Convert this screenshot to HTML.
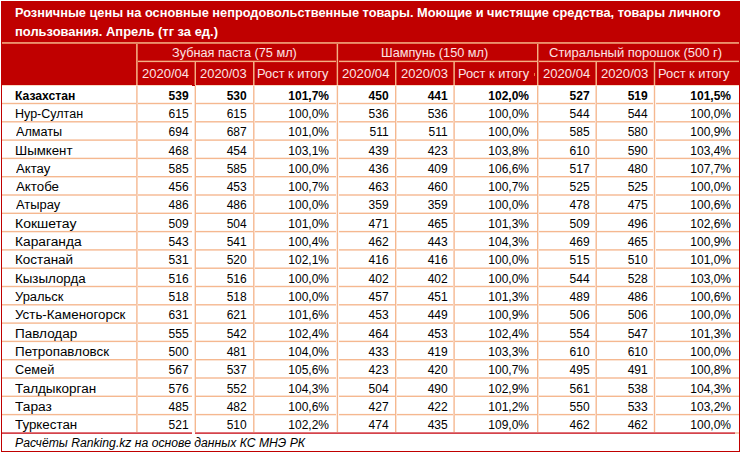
<!DOCTYPE html><html><head><meta charset="utf-8"><style>
html,body{margin:0;padding:0;background:#fff;width:740px;height:452px;overflow:hidden;position:relative}
div{position:absolute;box-sizing:border-box}
.t{font-family:"Liberation Sans",sans-serif;white-space:nowrap;line-height:20px;height:20px}
.k{-webkit-text-stroke:0px #000}
.b.k{-webkit-text-stroke:0}
.r{text-align:right}
.c{text-align:center}
.b{font-weight:bold}
</style></head><body>
<div style="left:1px;top:1px;width:739px;height:84px;background:#c00000"></div>
<div style="left:2px;top:85px;width:737px;height:1px;background:#f9d9c4"></div>
<div style="left:2px;top:42px;width:737px;height:1px;background:#eb916d"></div>
<div style="left:2px;top:43px;width:737px;height:1px;background:#e57e5e"></div>
<div style="left:137px;top:60px;width:602px;height:1px;background:#d13a2c"></div>
<div style="left:137px;top:61px;width:602px;height:1px;background:#f4b084"></div>
<div style="left:137px;top:62px;width:602px;height:1px;background:#c6130f"></div>
<div style="left:136px;top:44px;width:1px;height:41px;background:#ee9b74"></div>
<div style="left:137px;top:44px;width:1px;height:41px;background:#e27457"></div>
<div style="left:194px;top:62px;width:1px;height:23px;background:#d74d3a"></div>
<div style="left:195px;top:62px;width:1px;height:23px;background:#f4b084"></div>
<div style="left:253px;top:62px;width:1px;height:23px;background:#f3ae83"></div>
<div style="left:254px;top:62px;width:1px;height:23px;background:#dd6149"></div>
<div style="left:336px;top:44px;width:1px;height:41px;background:#d13a2c"></div>
<div style="left:337px;top:44px;width:1px;height:41px;background:#f4b084"></div>
<div style="left:338px;top:44px;width:1px;height:41px;background:#c6130f"></div>
<div style="left:395px;top:62px;width:1px;height:23px;background:#f4b084"></div>
<div style="left:396px;top:62px;width:1px;height:23px;background:#d74d3a"></div>
<div style="left:453px;top:62px;width:1px;height:23px;background:#e27457"></div>
<div style="left:454px;top:62px;width:1px;height:23px;background:#ee9b74"></div>
<div style="left:537px;top:44px;width:1px;height:41px;background:#f4b084"></div>
<div style="left:538px;top:44px;width:1px;height:41px;background:#d74d3a"></div>
<div style="left:595px;top:62px;width:1px;height:23px;background:#dd6149"></div>
<div style="left:596px;top:62px;width:1px;height:23px;background:#f3ae83"></div>
<div style="left:653px;top:62px;width:1px;height:23px;background:#cb271d"></div>
<div style="left:654px;top:62px;width:1px;height:23px;background:#f4b084"></div>
<div style="left:655px;top:62px;width:1px;height:23px;background:#cb271d"></div>
<div style="left:2px;top:102px;width:737px;height:1px;background:#fdf1e9"></div>
<div style="left:2px;top:103px;width:737px;height:1px;background:#f5b890"></div>
<div style="left:2px;top:104px;width:737px;height:1px;background:#fdf1e9"></div>
<div style="left:2px;top:121px;width:737px;height:1px;background:#f6bf9b"></div>
<div style="left:2px;top:122px;width:737px;height:1px;background:#fadbc8"></div>
<div style="left:2px;top:139px;width:737px;height:1px;background:#f9d4bd"></div>
<div style="left:2px;top:140px;width:737px;height:1px;background:#f7c6a6"></div>
<div style="left:2px;top:157px;width:737px;height:1px;background:#fceade"></div>
<div style="left:2px;top:158px;width:737px;height:1px;background:#f5b890"></div>
<div style="left:2px;top:159px;width:737px;height:1px;background:#fef8f4"></div>
<div style="left:2px;top:176px;width:737px;height:1px;background:#f5b890"></div>
<div style="left:2px;top:177px;width:737px;height:1px;background:#fbe3d3"></div>
<div style="left:2px;top:194px;width:737px;height:1px;background:#f8cdb2"></div>
<div style="left:2px;top:195px;width:737px;height:1px;background:#f8cdb2"></div>
<div style="left:2px;top:212px;width:737px;height:1px;background:#fbe3d3"></div>
<div style="left:2px;top:213px;width:737px;height:1px;background:#f5b890"></div>
<div style="left:2px;top:230px;width:737px;height:1px;background:#fef8f4"></div>
<div style="left:2px;top:231px;width:737px;height:1px;background:#f5b890"></div>
<div style="left:2px;top:232px;width:737px;height:1px;background:#fceade"></div>
<div style="left:2px;top:249px;width:737px;height:1px;background:#f7c6a6"></div>
<div style="left:2px;top:250px;width:737px;height:1px;background:#f9d4bd"></div>
<div style="left:2px;top:267px;width:737px;height:1px;background:#fadbc8"></div>
<div style="left:2px;top:268px;width:737px;height:1px;background:#f6bf9b"></div>
<div style="left:2px;top:285px;width:737px;height:1px;background:#fdf1e9"></div>
<div style="left:2px;top:286px;width:737px;height:1px;background:#f5b890"></div>
<div style="left:2px;top:287px;width:737px;height:1px;background:#fdf1e9"></div>
<div style="left:2px;top:304px;width:737px;height:1px;background:#f6bf9b"></div>
<div style="left:2px;top:305px;width:737px;height:1px;background:#fadbc8"></div>
<div style="left:2px;top:322px;width:737px;height:1px;background:#f9d4bd"></div>
<div style="left:2px;top:323px;width:737px;height:1px;background:#f7c6a6"></div>
<div style="left:2px;top:340px;width:737px;height:1px;background:#fceade"></div>
<div style="left:2px;top:341px;width:737px;height:1px;background:#f5b890"></div>
<div style="left:2px;top:342px;width:737px;height:1px;background:#fef8f4"></div>
<div style="left:2px;top:359px;width:737px;height:1px;background:#f5b890"></div>
<div style="left:2px;top:360px;width:737px;height:1px;background:#fbe3d3"></div>
<div style="left:2px;top:377px;width:737px;height:1px;background:#f8cdb2"></div>
<div style="left:2px;top:378px;width:737px;height:1px;background:#f8cdb2"></div>
<div style="left:2px;top:395px;width:737px;height:1px;background:#fbe3d3"></div>
<div style="left:2px;top:396px;width:737px;height:1px;background:#f5b890"></div>
<div style="left:2px;top:413px;width:737px;height:1px;background:#fef8f4"></div>
<div style="left:2px;top:414px;width:737px;height:1px;background:#f5b890"></div>
<div style="left:2px;top:415px;width:737px;height:1px;background:#fceade"></div>
<div style="left:192px;top:86px;width:3px;height:346px;background:#fff"></div>
<div style="left:136px;top:86px;width:1px;height:346px;background:#f7c6a6"></div>
<div style="left:137px;top:86px;width:1px;height:346px;background:#f9d4bd"></div>
<div style="left:194px;top:86px;width:1px;height:346px;background:#fbe3d3"></div>
<div style="left:195px;top:86px;width:1px;height:346px;background:#f5b890"></div>
<div style="left:253px;top:86px;width:1px;height:346px;background:#f6bf9b"></div>
<div style="left:254px;top:86px;width:1px;height:346px;background:#fadbc8"></div>
<div style="left:336px;top:86px;width:1px;height:346px;background:#fceade"></div>
<div style="left:337px;top:86px;width:1px;height:346px;background:#f5b890"></div>
<div style="left:338px;top:86px;width:1px;height:346px;background:#fef8f4"></div>
<div style="left:395px;top:86px;width:1px;height:346px;background:#f5b890"></div>
<div style="left:396px;top:86px;width:1px;height:346px;background:#fbe3d3"></div>
<div style="left:453px;top:86px;width:1px;height:346px;background:#f9d4bd"></div>
<div style="left:454px;top:86px;width:1px;height:346px;background:#f7c6a6"></div>
<div style="left:537px;top:86px;width:1px;height:346px;background:#f5b890"></div>
<div style="left:538px;top:86px;width:1px;height:346px;background:#fbe3d3"></div>
<div style="left:595px;top:86px;width:1px;height:346px;background:#fadbc8"></div>
<div style="left:596px;top:86px;width:1px;height:346px;background:#f6bf9b"></div>
<div style="left:653px;top:86px;width:1px;height:346px;background:#fdf1e9"></div>
<div style="left:654px;top:86px;width:1px;height:346px;background:#f5b890"></div>
<div style="left:655px;top:86px;width:1px;height:346px;background:#fdf1e9"></div>
<div style="left:1px;top:432px;width:734px;height:1px;background:#e07479"></div>
<div style="left:1px;top:433px;width:734px;height:1px;background:#d4434b"></div>
<div style="left:735px;top:432px;width:4px;height:2px;background:#f8d0b5"></div>
<div style="left:192px;top:432px;width:3px;height:2px;background:#fff"></div>
<div style="left:192px;top:85px;width:3px;height:1px;background:#c00000"></div>
<div style="left:534px;top:73px;width:1px;height:3px;background:#ee7a3a"></div>
<div style="left:1px;top:1px;width:1px;height:451px;background:#c00000"></div>
<div style="left:739px;top:85px;width:1px;height:367px;background:#c00000"></div>
<div style="left:1px;top:451px;width:739px;height:1px;background:#c00000"></div>
<div class="t b" style="left:14.70px;top:2.99px;font-size:12.75px;color:#fff;transform:scaleX(1.0020);transform-origin:0 0;">Розничные цены на основные непродовольственные товары. Моющие и чистящие средства, товары личного</div>
<div class="t b" style="left:14.59px;top:22.29px;font-size:12.75px;color:#fff;transform:scaleX(1.0141);transform-origin:0 0;">пользования. Апрель (тг за ед.)</div>
<div class="t " style="left:172.48px;top:42.83px;font-size:12px;color:#fde4e4;transform:scaleX(1.0591);transform-origin:0 0;">Зубная паста (75 мл)</div>
<div class="t " style="left:381.24px;top:42.83px;font-size:12px;color:#fde4e4;transform:scaleX(1.0593);transform-origin:0 0;">Шампунь (150 мл)</div>
<div class="t " style="left:549.35px;top:42.83px;font-size:12px;color:#fde4e4;transform:scaleX(1.0832);transform-origin:0 0;">Стиральный порошок (500 г)</div>
<div class="t " style="left:141.85px;top:63.53px;font-size:12px;color:#fde4e4;transform:scaleX(1.0849);transform-origin:0 0;">2020/04</div>
<div class="t " style="left:200.05px;top:63.53px;font-size:12px;color:#fde4e4;transform:scaleX(1.0780);transform-origin:0 0;">2020/03</div>
<div class="t " style="left:257.33px;top:63.53px;font-size:12px;color:#fde4e4;transform:scaleX(1.0732);transform-origin:0 0;">Рост к итогу</div>
<div class="t " style="left:342.04px;top:63.53px;font-size:12px;color:#fde4e4;transform:scaleX(1.0943);transform-origin:0 0;">2020/04</div>
<div class="t " style="left:400.65px;top:63.53px;font-size:12px;color:#fde4e4;transform:scaleX(1.0827);transform-origin:0 0;">2020/03</div>
<div class="t " style="left:457.63px;top:63.53px;font-size:12px;color:#fde4e4;transform:scaleX(1.0686);transform-origin:0 0;">Рост к итогу</div>
<div class="t " style="left:542.65px;top:63.53px;font-size:12px;color:#fde4e4;transform:scaleX(1.0896);transform-origin:0 0;">2020/04</div>
<div class="t " style="left:600.64px;top:63.53px;font-size:12px;color:#fde4e4;transform:scaleX(1.0922);transform-origin:0 0;">2020/03</div>
<div class="t " style="left:658.33px;top:63.53px;font-size:12px;color:#fde4e4;transform:scaleX(1.0732);transform-origin:0 0;">Рост к итогу</div>
<div class="t b k" style="left:14.79px;top:86.03px;font-size:12px;color:#000;transform:scaleX(1.0121);transform-origin:0 0;">Казахстан</div>
<div class="t b k" style="left:-111.40px;width:300px;top:86.03px;font-size:12px;color:#000;text-align:right;">539</div>
<div class="t b k" style="left:-53.30px;width:300px;top:86.03px;font-size:12px;color:#000;text-align:right;">530</div>
<div class="t b k" style="left:29.00px;width:300px;top:86.03px;font-size:12px;color:#000;text-align:right;">101,7%</div>
<div class="t b k" style="left:88.60px;width:300px;top:86.03px;font-size:12px;color:#000;text-align:right;">450</div>
<div class="t b k" style="left:147.70px;width:300px;top:86.03px;font-size:12px;color:#000;text-align:right;">441</div>
<div class="t b k" style="left:229.00px;width:300px;top:86.03px;font-size:12px;color:#000;text-align:right;">102,0%</div>
<div class="t b k" style="left:289.60px;width:300px;top:86.03px;font-size:12px;color:#000;text-align:right;">527</div>
<div class="t b k" style="left:347.70px;width:300px;top:86.03px;font-size:12px;color:#000;text-align:right;">519</div>
<div class="t b k" style="left:431.00px;width:300px;top:86.03px;font-size:12px;color:#000;text-align:right;">101,5%</div>
<div class="t  k" style="left:14.66px;top:104.03px;font-size:12px;color:#000;transform:scaleX(1.0425);transform-origin:0 0;">Нур-Султан</div>
<div class="t  k" style="left:-111.40px;width:300px;top:104.03px;font-size:12px;color:#000;text-align:right;">615</div>
<div class="t  k" style="left:-53.30px;width:300px;top:104.03px;font-size:12px;color:#000;text-align:right;">615</div>
<div class="t  k" style="left:29.00px;width:300px;top:104.03px;font-size:12px;color:#000;text-align:right;">100,0%</div>
<div class="t  k" style="left:88.60px;width:300px;top:104.03px;font-size:12px;color:#000;text-align:right;">536</div>
<div class="t  k" style="left:147.70px;width:300px;top:104.03px;font-size:12px;color:#000;text-align:right;">536</div>
<div class="t  k" style="left:229.00px;width:300px;top:104.03px;font-size:12px;color:#000;text-align:right;">100,0%</div>
<div class="t  k" style="left:289.60px;width:300px;top:104.03px;font-size:12px;color:#000;text-align:right;">544</div>
<div class="t  k" style="left:347.70px;width:300px;top:104.03px;font-size:12px;color:#000;text-align:right;">544</div>
<div class="t  k" style="left:431.00px;width:300px;top:104.03px;font-size:12px;color:#000;text-align:right;">100,0%</div>
<div class="t  k" style="left:15.59px;top:122.03px;font-size:12px;color:#000;transform:scaleX(1.0513);transform-origin:0 0;">Алматы</div>
<div class="t  k" style="left:-111.40px;width:300px;top:122.03px;font-size:12px;color:#000;text-align:right;">694</div>
<div class="t  k" style="left:-53.30px;width:300px;top:122.03px;font-size:12px;color:#000;text-align:right;">687</div>
<div class="t  k" style="left:29.00px;width:300px;top:122.03px;font-size:12px;color:#000;text-align:right;">101,0%</div>
<div class="t  k" style="left:88.60px;width:300px;top:122.03px;font-size:12px;color:#000;text-align:right;">511</div>
<div class="t  k" style="left:147.70px;width:300px;top:122.03px;font-size:12px;color:#000;text-align:right;">511</div>
<div class="t  k" style="left:229.00px;width:300px;top:122.03px;font-size:12px;color:#000;text-align:right;">100,0%</div>
<div class="t  k" style="left:289.60px;width:300px;top:122.03px;font-size:12px;color:#000;text-align:right;">585</div>
<div class="t  k" style="left:347.70px;width:300px;top:122.03px;font-size:12px;color:#000;text-align:right;">580</div>
<div class="t  k" style="left:431.00px;width:300px;top:122.03px;font-size:12px;color:#000;text-align:right;">100,9%</div>
<div class="t  k" style="left:14.60px;top:141.03px;font-size:12px;color:#000;transform:scaleX(1.1041);transform-origin:0 0;">Шымкент</div>
<div class="t  k" style="left:-111.40px;width:300px;top:141.03px;font-size:12px;color:#000;text-align:right;">468</div>
<div class="t  k" style="left:-53.30px;width:300px;top:141.03px;font-size:12px;color:#000;text-align:right;">454</div>
<div class="t  k" style="left:29.00px;width:300px;top:141.03px;font-size:12px;color:#000;text-align:right;">103,1%</div>
<div class="t  k" style="left:88.60px;width:300px;top:141.03px;font-size:12px;color:#000;text-align:right;">439</div>
<div class="t  k" style="left:147.70px;width:300px;top:141.03px;font-size:12px;color:#000;text-align:right;">423</div>
<div class="t  k" style="left:229.00px;width:300px;top:141.03px;font-size:12px;color:#000;text-align:right;">103,8%</div>
<div class="t  k" style="left:289.60px;width:300px;top:141.03px;font-size:12px;color:#000;text-align:right;">610</div>
<div class="t  k" style="left:347.70px;width:300px;top:141.03px;font-size:12px;color:#000;text-align:right;">590</div>
<div class="t  k" style="left:431.00px;width:300px;top:141.03px;font-size:12px;color:#000;text-align:right;">103,4%</div>
<div class="t  k" style="left:15.59px;top:159.03px;font-size:12px;color:#000;transform:scaleX(1.0929);transform-origin:0 0;">Актау</div>
<div class="t  k" style="left:-111.40px;width:300px;top:159.03px;font-size:12px;color:#000;text-align:right;">585</div>
<div class="t  k" style="left:-53.30px;width:300px;top:159.03px;font-size:12px;color:#000;text-align:right;">585</div>
<div class="t  k" style="left:29.00px;width:300px;top:159.03px;font-size:12px;color:#000;text-align:right;">100,0%</div>
<div class="t  k" style="left:88.60px;width:300px;top:159.03px;font-size:12px;color:#000;text-align:right;">436</div>
<div class="t  k" style="left:147.70px;width:300px;top:159.03px;font-size:12px;color:#000;text-align:right;">409</div>
<div class="t  k" style="left:229.00px;width:300px;top:159.03px;font-size:12px;color:#000;text-align:right;">106,6%</div>
<div class="t  k" style="left:289.60px;width:300px;top:159.03px;font-size:12px;color:#000;text-align:right;">517</div>
<div class="t  k" style="left:347.70px;width:300px;top:159.03px;font-size:12px;color:#000;text-align:right;">480</div>
<div class="t  k" style="left:431.00px;width:300px;top:159.03px;font-size:12px;color:#000;text-align:right;">107,7%</div>
<div class="t  k" style="left:15.59px;top:177.03px;font-size:12px;color:#000;transform:scaleX(1.1073);transform-origin:0 0;">Актобе</div>
<div class="t  k" style="left:-111.40px;width:300px;top:177.03px;font-size:12px;color:#000;text-align:right;">456</div>
<div class="t  k" style="left:-53.30px;width:300px;top:177.03px;font-size:12px;color:#000;text-align:right;">453</div>
<div class="t  k" style="left:29.00px;width:300px;top:177.03px;font-size:12px;color:#000;text-align:right;">100,7%</div>
<div class="t  k" style="left:88.60px;width:300px;top:177.03px;font-size:12px;color:#000;text-align:right;">463</div>
<div class="t  k" style="left:147.70px;width:300px;top:177.03px;font-size:12px;color:#000;text-align:right;">460</div>
<div class="t  k" style="left:229.00px;width:300px;top:177.03px;font-size:12px;color:#000;text-align:right;">100,7%</div>
<div class="t  k" style="left:289.60px;width:300px;top:177.03px;font-size:12px;color:#000;text-align:right;">525</div>
<div class="t  k" style="left:347.70px;width:300px;top:177.03px;font-size:12px;color:#000;text-align:right;">525</div>
<div class="t  k" style="left:431.00px;width:300px;top:177.03px;font-size:12px;color:#000;text-align:right;">100,0%</div>
<div class="t  k" style="left:15.59px;top:195.03px;font-size:12px;color:#000;transform:scaleX(1.0758);transform-origin:0 0;">Атырау</div>
<div class="t  k" style="left:-111.40px;width:300px;top:195.03px;font-size:12px;color:#000;text-align:right;">486</div>
<div class="t  k" style="left:-53.30px;width:300px;top:195.03px;font-size:12px;color:#000;text-align:right;">486</div>
<div class="t  k" style="left:29.00px;width:300px;top:195.03px;font-size:12px;color:#000;text-align:right;">100,0%</div>
<div class="t  k" style="left:88.60px;width:300px;top:195.03px;font-size:12px;color:#000;text-align:right;">359</div>
<div class="t  k" style="left:147.70px;width:300px;top:195.03px;font-size:12px;color:#000;text-align:right;">359</div>
<div class="t  k" style="left:229.00px;width:300px;top:195.03px;font-size:12px;color:#000;text-align:right;">100,0%</div>
<div class="t  k" style="left:289.60px;width:300px;top:195.03px;font-size:12px;color:#000;text-align:right;">478</div>
<div class="t  k" style="left:347.70px;width:300px;top:195.03px;font-size:12px;color:#000;text-align:right;">475</div>
<div class="t  k" style="left:431.00px;width:300px;top:195.03px;font-size:12px;color:#000;text-align:right;">100,6%</div>
<div class="t  k" style="left:14.53px;top:214.03px;font-size:12px;color:#000;transform:scaleX(1.1663);transform-origin:0 0;">Кокшетау</div>
<div class="t  k" style="left:-111.40px;width:300px;top:214.03px;font-size:12px;color:#000;text-align:right;">509</div>
<div class="t  k" style="left:-53.30px;width:300px;top:214.03px;font-size:12px;color:#000;text-align:right;">504</div>
<div class="t  k" style="left:29.00px;width:300px;top:214.03px;font-size:12px;color:#000;text-align:right;">101,0%</div>
<div class="t  k" style="left:88.60px;width:300px;top:214.03px;font-size:12px;color:#000;text-align:right;">471</div>
<div class="t  k" style="left:147.70px;width:300px;top:214.03px;font-size:12px;color:#000;text-align:right;">465</div>
<div class="t  k" style="left:229.00px;width:300px;top:214.03px;font-size:12px;color:#000;text-align:right;">101,3%</div>
<div class="t  k" style="left:289.60px;width:300px;top:214.03px;font-size:12px;color:#000;text-align:right;">509</div>
<div class="t  k" style="left:347.70px;width:300px;top:214.03px;font-size:12px;color:#000;text-align:right;">496</div>
<div class="t  k" style="left:431.00px;width:300px;top:214.03px;font-size:12px;color:#000;text-align:right;">102,6%</div>
<div class="t  k" style="left:14.55px;top:232.03px;font-size:12px;color:#000;transform:scaleX(1.1454);transform-origin:0 0;">Караганда</div>
<div class="t  k" style="left:-111.40px;width:300px;top:232.03px;font-size:12px;color:#000;text-align:right;">543</div>
<div class="t  k" style="left:-53.30px;width:300px;top:232.03px;font-size:12px;color:#000;text-align:right;">541</div>
<div class="t  k" style="left:29.00px;width:300px;top:232.03px;font-size:12px;color:#000;text-align:right;">100,4%</div>
<div class="t  k" style="left:88.60px;width:300px;top:232.03px;font-size:12px;color:#000;text-align:right;">462</div>
<div class="t  k" style="left:147.70px;width:300px;top:232.03px;font-size:12px;color:#000;text-align:right;">443</div>
<div class="t  k" style="left:229.00px;width:300px;top:232.03px;font-size:12px;color:#000;text-align:right;">104,3%</div>
<div class="t  k" style="left:289.60px;width:300px;top:232.03px;font-size:12px;color:#000;text-align:right;">469</div>
<div class="t  k" style="left:347.70px;width:300px;top:232.03px;font-size:12px;color:#000;text-align:right;">465</div>
<div class="t  k" style="left:431.00px;width:300px;top:232.03px;font-size:12px;color:#000;text-align:right;">100,9%</div>
<div class="t  k" style="left:14.58px;top:250.03px;font-size:12px;color:#000;transform:scaleX(1.1242);transform-origin:0 0;">Костанай</div>
<div class="t  k" style="left:-111.40px;width:300px;top:250.03px;font-size:12px;color:#000;text-align:right;">531</div>
<div class="t  k" style="left:-53.30px;width:300px;top:250.03px;font-size:12px;color:#000;text-align:right;">520</div>
<div class="t  k" style="left:29.00px;width:300px;top:250.03px;font-size:12px;color:#000;text-align:right;">102,1%</div>
<div class="t  k" style="left:88.60px;width:300px;top:250.03px;font-size:12px;color:#000;text-align:right;">416</div>
<div class="t  k" style="left:147.70px;width:300px;top:250.03px;font-size:12px;color:#000;text-align:right;">416</div>
<div class="t  k" style="left:229.00px;width:300px;top:250.03px;font-size:12px;color:#000;text-align:right;">100,0%</div>
<div class="t  k" style="left:289.60px;width:300px;top:250.03px;font-size:12px;color:#000;text-align:right;">515</div>
<div class="t  k" style="left:347.70px;width:300px;top:250.03px;font-size:12px;color:#000;text-align:right;">510</div>
<div class="t  k" style="left:431.00px;width:300px;top:250.03px;font-size:12px;color:#000;text-align:right;">101,0%</div>
<div class="t  k" style="left:14.59px;top:269.03px;font-size:12px;color:#000;transform:scaleX(1.1102);transform-origin:0 0;">Кызылорда</div>
<div class="t  k" style="left:-111.40px;width:300px;top:269.03px;font-size:12px;color:#000;text-align:right;">516</div>
<div class="t  k" style="left:-53.30px;width:300px;top:269.03px;font-size:12px;color:#000;text-align:right;">516</div>
<div class="t  k" style="left:29.00px;width:300px;top:269.03px;font-size:12px;color:#000;text-align:right;">100,0%</div>
<div class="t  k" style="left:88.60px;width:300px;top:269.03px;font-size:12px;color:#000;text-align:right;">402</div>
<div class="t  k" style="left:147.70px;width:300px;top:269.03px;font-size:12px;color:#000;text-align:right;">402</div>
<div class="t  k" style="left:229.00px;width:300px;top:269.03px;font-size:12px;color:#000;text-align:right;">100,0%</div>
<div class="t  k" style="left:289.60px;width:300px;top:269.03px;font-size:12px;color:#000;text-align:right;">544</div>
<div class="t  k" style="left:347.70px;width:300px;top:269.03px;font-size:12px;color:#000;text-align:right;">528</div>
<div class="t  k" style="left:431.00px;width:300px;top:269.03px;font-size:12px;color:#000;text-align:right;">103,0%</div>
<div class="t  k" style="left:15.27px;top:287.03px;font-size:12px;color:#000;transform:scaleX(1.0785);transform-origin:0 0;">Уральск</div>
<div class="t  k" style="left:-111.40px;width:300px;top:287.03px;font-size:12px;color:#000;text-align:right;">518</div>
<div class="t  k" style="left:-53.30px;width:300px;top:287.03px;font-size:12px;color:#000;text-align:right;">518</div>
<div class="t  k" style="left:29.00px;width:300px;top:287.03px;font-size:12px;color:#000;text-align:right;">100,0%</div>
<div class="t  k" style="left:88.60px;width:300px;top:287.03px;font-size:12px;color:#000;text-align:right;">457</div>
<div class="t  k" style="left:147.70px;width:300px;top:287.03px;font-size:12px;color:#000;text-align:right;">451</div>
<div class="t  k" style="left:229.00px;width:300px;top:287.03px;font-size:12px;color:#000;text-align:right;">101,3%</div>
<div class="t  k" style="left:289.60px;width:300px;top:287.03px;font-size:12px;color:#000;text-align:right;">489</div>
<div class="t  k" style="left:347.70px;width:300px;top:287.03px;font-size:12px;color:#000;text-align:right;">486</div>
<div class="t  k" style="left:431.00px;width:300px;top:287.03px;font-size:12px;color:#000;text-align:right;">100,6%</div>
<div class="t  k" style="left:15.25px;top:305.03px;font-size:12px;color:#000;transform:scaleX(1.1134);transform-origin:0 0;">Усть-Каменогорск</div>
<div class="t  k" style="left:-111.40px;width:300px;top:305.03px;font-size:12px;color:#000;text-align:right;">631</div>
<div class="t  k" style="left:-53.30px;width:300px;top:305.03px;font-size:12px;color:#000;text-align:right;">621</div>
<div class="t  k" style="left:29.00px;width:300px;top:305.03px;font-size:12px;color:#000;text-align:right;">101,6%</div>
<div class="t  k" style="left:88.60px;width:300px;top:305.03px;font-size:12px;color:#000;text-align:right;">453</div>
<div class="t  k" style="left:147.70px;width:300px;top:305.03px;font-size:12px;color:#000;text-align:right;">449</div>
<div class="t  k" style="left:229.00px;width:300px;top:305.03px;font-size:12px;color:#000;text-align:right;">100,9%</div>
<div class="t  k" style="left:289.60px;width:300px;top:305.03px;font-size:12px;color:#000;text-align:right;">506</div>
<div class="t  k" style="left:347.70px;width:300px;top:305.03px;font-size:12px;color:#000;text-align:right;">506</div>
<div class="t  k" style="left:431.00px;width:300px;top:305.03px;font-size:12px;color:#000;text-align:right;">100,0%</div>
<div class="t  k" style="left:14.57px;top:324.03px;font-size:12px;color:#000;transform:scaleX(1.1264);transform-origin:0 0;">Павлодар</div>
<div class="t  k" style="left:-111.40px;width:300px;top:324.03px;font-size:12px;color:#000;text-align:right;">555</div>
<div class="t  k" style="left:-53.30px;width:300px;top:324.03px;font-size:12px;color:#000;text-align:right;">542</div>
<div class="t  k" style="left:29.00px;width:300px;top:324.03px;font-size:12px;color:#000;text-align:right;">102,4%</div>
<div class="t  k" style="left:88.60px;width:300px;top:324.03px;font-size:12px;color:#000;text-align:right;">464</div>
<div class="t  k" style="left:147.70px;width:300px;top:324.03px;font-size:12px;color:#000;text-align:right;">453</div>
<div class="t  k" style="left:229.00px;width:300px;top:324.03px;font-size:12px;color:#000;text-align:right;">102,4%</div>
<div class="t  k" style="left:289.60px;width:300px;top:324.03px;font-size:12px;color:#000;text-align:right;">554</div>
<div class="t  k" style="left:347.70px;width:300px;top:324.03px;font-size:12px;color:#000;text-align:right;">547</div>
<div class="t  k" style="left:431.00px;width:300px;top:324.03px;font-size:12px;color:#000;text-align:right;">101,3%</div>
<div class="t  k" style="left:14.58px;top:342.03px;font-size:12px;color:#000;transform:scaleX(1.1163);transform-origin:0 0;">Петропавловск</div>
<div class="t  k" style="left:-111.40px;width:300px;top:342.03px;font-size:12px;color:#000;text-align:right;">500</div>
<div class="t  k" style="left:-53.30px;width:300px;top:342.03px;font-size:12px;color:#000;text-align:right;">481</div>
<div class="t  k" style="left:29.00px;width:300px;top:342.03px;font-size:12px;color:#000;text-align:right;">104,0%</div>
<div class="t  k" style="left:88.60px;width:300px;top:342.03px;font-size:12px;color:#000;text-align:right;">433</div>
<div class="t  k" style="left:147.70px;width:300px;top:342.03px;font-size:12px;color:#000;text-align:right;">419</div>
<div class="t  k" style="left:229.00px;width:300px;top:342.03px;font-size:12px;color:#000;text-align:right;">103,3%</div>
<div class="t  k" style="left:289.60px;width:300px;top:342.03px;font-size:12px;color:#000;text-align:right;">610</div>
<div class="t  k" style="left:347.70px;width:300px;top:342.03px;font-size:12px;color:#000;text-align:right;">610</div>
<div class="t  k" style="left:431.00px;width:300px;top:342.03px;font-size:12px;color:#000;text-align:right;">100,0%</div>
<div class="t  k" style="left:15.06px;top:360.03px;font-size:12px;color:#000;transform:scaleX(1.0618);transform-origin:0 0;">Семей</div>
<div class="t  k" style="left:-111.40px;width:300px;top:360.03px;font-size:12px;color:#000;text-align:right;">567</div>
<div class="t  k" style="left:-53.30px;width:300px;top:360.03px;font-size:12px;color:#000;text-align:right;">537</div>
<div class="t  k" style="left:29.00px;width:300px;top:360.03px;font-size:12px;color:#000;text-align:right;">105,6%</div>
<div class="t  k" style="left:88.60px;width:300px;top:360.03px;font-size:12px;color:#000;text-align:right;">423</div>
<div class="t  k" style="left:147.70px;width:300px;top:360.03px;font-size:12px;color:#000;text-align:right;">420</div>
<div class="t  k" style="left:229.00px;width:300px;top:360.03px;font-size:12px;color:#000;text-align:right;">100,7%</div>
<div class="t  k" style="left:289.60px;width:300px;top:360.03px;font-size:12px;color:#000;text-align:right;">495</div>
<div class="t  k" style="left:347.70px;width:300px;top:360.03px;font-size:12px;color:#000;text-align:right;">491</div>
<div class="t  k" style="left:431.00px;width:300px;top:360.03px;font-size:12px;color:#000;text-align:right;">100,8%</div>
<div class="t  k" style="left:15.36px;top:379.03px;font-size:12px;color:#000;transform:scaleX(1.1238);transform-origin:0 0;">Талдыкорган</div>
<div class="t  k" style="left:-111.40px;width:300px;top:379.03px;font-size:12px;color:#000;text-align:right;">576</div>
<div class="t  k" style="left:-53.30px;width:300px;top:379.03px;font-size:12px;color:#000;text-align:right;">552</div>
<div class="t  k" style="left:29.00px;width:300px;top:379.03px;font-size:12px;color:#000;text-align:right;">104,3%</div>
<div class="t  k" style="left:88.60px;width:300px;top:379.03px;font-size:12px;color:#000;text-align:right;">504</div>
<div class="t  k" style="left:147.70px;width:300px;top:379.03px;font-size:12px;color:#000;text-align:right;">490</div>
<div class="t  k" style="left:229.00px;width:300px;top:379.03px;font-size:12px;color:#000;text-align:right;">102,9%</div>
<div class="t  k" style="left:289.60px;width:300px;top:379.03px;font-size:12px;color:#000;text-align:right;">561</div>
<div class="t  k" style="left:347.70px;width:300px;top:379.03px;font-size:12px;color:#000;text-align:right;">538</div>
<div class="t  k" style="left:431.00px;width:300px;top:379.03px;font-size:12px;color:#000;text-align:right;">104,3%</div>
<div class="t  k" style="left:15.36px;top:397.03px;font-size:12px;color:#000;transform:scaleX(1.1465);transform-origin:0 0;">Тараз</div>
<div class="t  k" style="left:-111.40px;width:300px;top:397.03px;font-size:12px;color:#000;text-align:right;">485</div>
<div class="t  k" style="left:-53.30px;width:300px;top:397.03px;font-size:12px;color:#000;text-align:right;">482</div>
<div class="t  k" style="left:29.00px;width:300px;top:397.03px;font-size:12px;color:#000;text-align:right;">100,6%</div>
<div class="t  k" style="left:88.60px;width:300px;top:397.03px;font-size:12px;color:#000;text-align:right;">427</div>
<div class="t  k" style="left:147.70px;width:300px;top:397.03px;font-size:12px;color:#000;text-align:right;">422</div>
<div class="t  k" style="left:229.00px;width:300px;top:397.03px;font-size:12px;color:#000;text-align:right;">101,2%</div>
<div class="t  k" style="left:289.60px;width:300px;top:397.03px;font-size:12px;color:#000;text-align:right;">550</div>
<div class="t  k" style="left:347.70px;width:300px;top:397.03px;font-size:12px;color:#000;text-align:right;">533</div>
<div class="t  k" style="left:431.00px;width:300px;top:397.03px;font-size:12px;color:#000;text-align:right;">103,2%</div>
<div class="t  k" style="left:15.37px;top:415.03px;font-size:12px;color:#000;transform:scaleX(1.1131);transform-origin:0 0;">Туркестан</div>
<div class="t  k" style="left:-111.40px;width:300px;top:415.03px;font-size:12px;color:#000;text-align:right;">521</div>
<div class="t  k" style="left:-53.30px;width:300px;top:415.03px;font-size:12px;color:#000;text-align:right;">510</div>
<div class="t  k" style="left:29.00px;width:300px;top:415.03px;font-size:12px;color:#000;text-align:right;">102,2%</div>
<div class="t  k" style="left:88.60px;width:300px;top:415.03px;font-size:12px;color:#000;text-align:right;">474</div>
<div class="t  k" style="left:147.70px;width:300px;top:415.03px;font-size:12px;color:#000;text-align:right;">435</div>
<div class="t  k" style="left:229.00px;width:300px;top:415.03px;font-size:12px;color:#000;text-align:right;">109,0%</div>
<div class="t  k" style="left:289.60px;width:300px;top:415.03px;font-size:12px;color:#000;text-align:right;">462</div>
<div class="t  k" style="left:347.70px;width:300px;top:415.03px;font-size:12px;color:#000;text-align:right;">462</div>
<div class="t  k" style="left:431.00px;width:300px;top:415.03px;font-size:12px;color:#000;text-align:right;">100,0%</div>
<div class="t k" style="left:14.89px;top:433.33px;font-size:12px;color:#000;transform:scaleX(1.0154);transform-origin:0 0;font-style:italic">Расчёты Ranking.kz на основе данных КС МНЭ РК</div>
</body></html>
